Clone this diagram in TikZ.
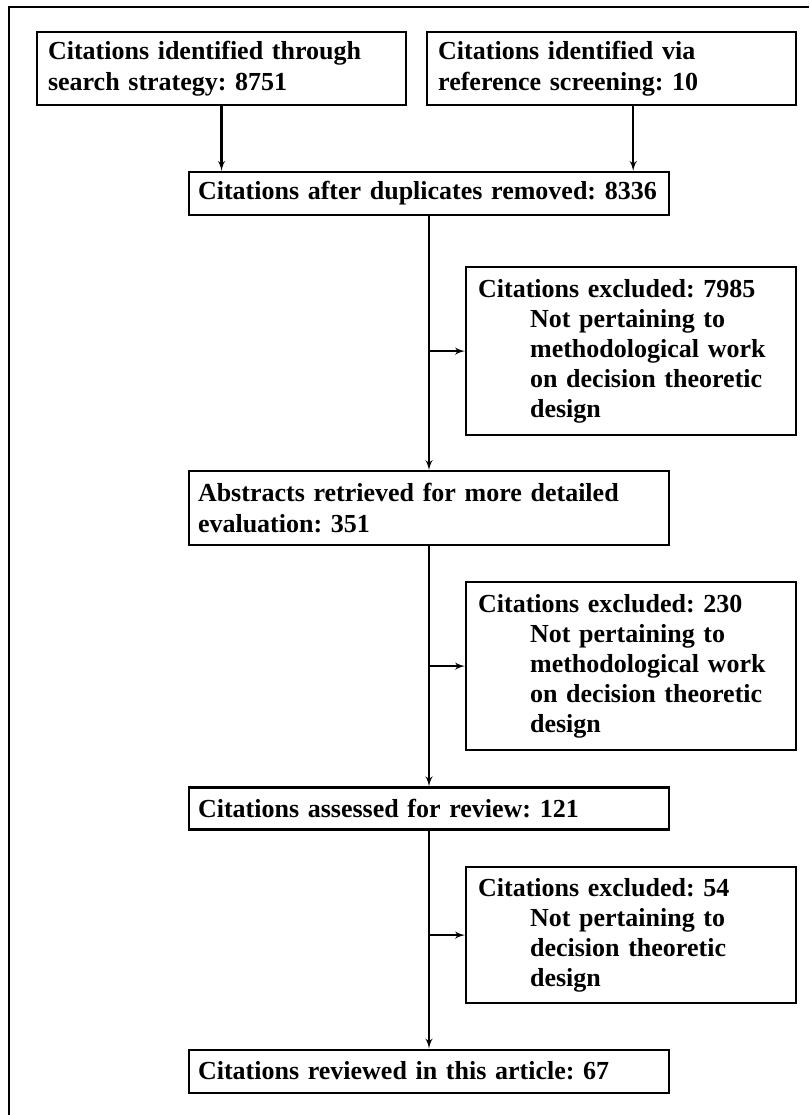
\documentclass[tikz,border=0pt]{standalone}
\usepackage{fontspec}
\setmainfont{Liberation Serif}
\usetikzlibrary{arrows,positioning}
\frenchspacing

\begin{document}
\begin{tikzpicture}[>=latex', x=1pt, y=-1pt]
        \tikzset{block/.style= {draw, rectangle, line width=2.2pt, align=left, inner xsep=11pt, inner ysep=0pt,
                 font=\fontsize{26}{31}\selectfont\bfseries},
        topblock/.style={block, text width=347pt, minimum width=369pt, minimum height=73pt},
        midblock/.style={block, inner xsep=9pt, text width=462pt, minimum width=480pt},
        xblock/.style={block, inner xsep=12pt, text width=306pt, minimum width=330pt,
                 font=\fontsize{26}{30}\selectfont\bfseries},
        conn/.style={->, line width=2.4pt}
        }
        \useasboundingbox (0,0) rectangle (809,1115);
        \draw[line width=2.8pt] (9,1115) -- (9,7) -- (809,7);
        \node [topblock] (search) at (221.5,68.5) {Citations identified through\\search strategy: 8751};
        \node [topblock, right =19pt of search] (refscr) {Citations identified via\\reference screening: 10};
        \node [midblock, minimum height=43pt] (dupl) at (429,193.5) {Citations after duplicates removed: 8336};
        \node [midblock, minimum height=74pt, below =254pt of dupl] (abstr) {Abstracts retrieved for more detailed\\evaluation: 351};
        \node [midblock, minimum height=42pt, below =240pt of abstr] (assess) {Citations assessed for review: 121};
        \node [midblock, minimum height=43pt, below =218pt of assess] (review) {Citations reviewed in this article: 67};
        \node [xblock, minimum height=168pt, anchor=north west] (excl1) at (465,266)
              {Citations excluded: 7985\\\hspace*{2em}Not pertaining to\\\hspace*{2em}methodological work\\\hspace*{2em}on decision theoretic\\\hspace*{2em}design};
        \node [xblock, minimum height=168pt, anchor=north west] (excl2) at (465,581)
              {Citations excluded: 230\\\hspace*{2em}Not pertaining to\\\hspace*{2em}methodological work\\\hspace*{2em}on decision theoretic\\\hspace*{2em}design};
        \node [xblock, minimum height=136pt, anchor=north west] (excl3) at (465,866)
              {Citations excluded: 54\\\hspace*{2em}Not pertaining to\\\hspace*{2em}decision theoretic\\\hspace*{2em}design};
%% paths
        \draw[conn] (search.south) -- (search.south |- dupl.north);
        \draw[conn] ([xshift=21.5pt]refscr.south) -- ([xshift=21.5pt]refscr.south |- dupl.north);
        \draw[conn] (dupl) -- (abstr);
        \draw[conn] (abstr) -- (assess);
        \draw[conn] (assess) -- (review);
        \draw[conn] (dupl.south |- excl1.west) -- (excl1);
        \draw[conn] (abstr.south |- excl2.west) -- (excl2);
        \draw[conn] (assess.south |- excl3.west) -- (excl3);
    \end{tikzpicture}
\end{document}
